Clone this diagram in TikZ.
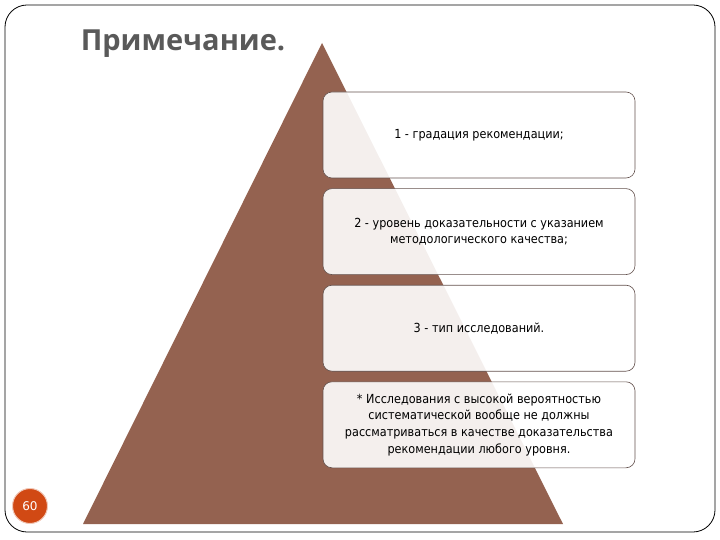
\documentclass[tikz,border=0pt]{standalone}
\usepackage{fontspec}
\setmainfont{DejaVu Sans}
\newfontfamily\titlefont{Open Sans}
\newfontfamily\boxfont{DejaVu Sans Condensed}
\usetikzlibrary{positioning}

\definecolor{pyramid}{RGB}{148,98,80}
\definecolor{titlegray}{RGB}{89,89,89}
\definecolor{pagenum}{RGB}{209,73,20}
\definecolor{boxline}{RGB}{100,82,78}

\begin{document}
\begin{tikzpicture}[x=1pt,y=-1pt,
  level/.style={draw=boxline, line width=0.6pt, fill=white, fill opacity=0.9,
    text opacity=1, rounded corners=9pt, minimum width=312pt, minimum height=86pt,
    align=center, inner sep=0pt, font=\boxfont\fontsize{12.5}{16.7}\selectfont},
  heading/.style={text=titlegray, inner sep=0pt, font=\titlefont\bfseries\fontsize{29}{34}\selectfont},
  pagebadge/.style={circle, fill=pagenum, draw=pagenum!30, line width=1pt,
    minimum size=35pt, inner sep=0pt, text=white, font=\fontsize{12}{14}\selectfont}]
\useasboundingbox (0,0) rectangle (720,540);

% frame and pyramid
\draw[rounded corners=22pt, line width=0.8pt] (5,5) rectangle (715,532);
\fill[pyramid] (322,43) -- (563,524) -- (83,524) -- cycle;

\node[heading] (title) at (183,44) {Примечание.};

% levels
\node[level] (lvl1) at (479,135) {1 - градация рекомендации;};
\node[level, below=10pt of lvl1] (lvl2) {2 - уровень доказательности с указанием\\методологического качества;};
\node[level, below=10pt of lvl2] (lvl3) {3 - тип исследований.};
\node[level, below=10pt of lvl3] (lvl4) {* Исследования с высокой вероятностью\\систематической вообще не должны\\рассматриваться в качестве доказательства\\рекомендации любого уровня.};

\node[pagebadge] (page) at (30,506) {60};
\end{tikzpicture}
\end{document}
